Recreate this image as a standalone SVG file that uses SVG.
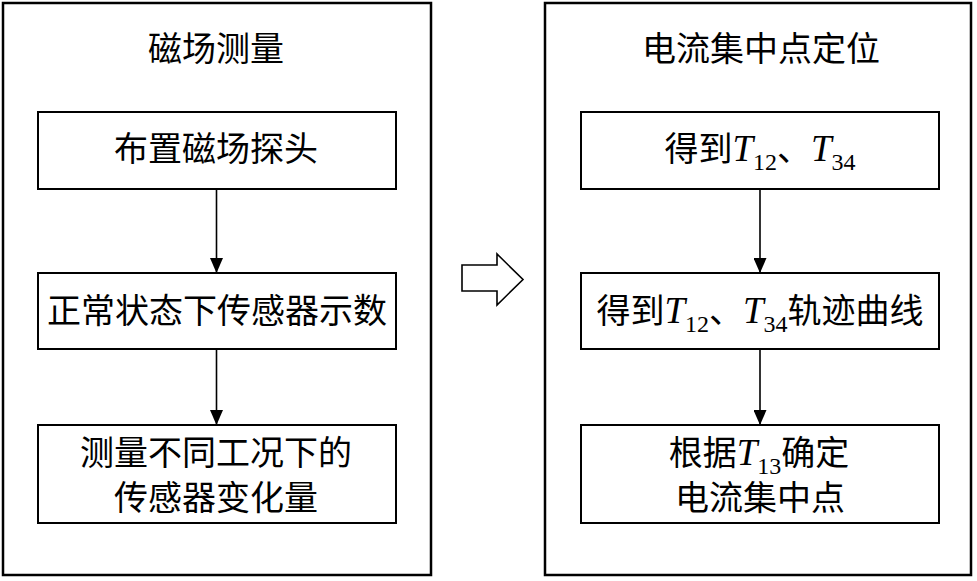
<svg xmlns="http://www.w3.org/2000/svg" width="977" height="581" viewBox="0 0 977 581">
<style>
.frame{fill:#fff;stroke:#000;stroke-width:2.5}
.box{fill:#fff;stroke:#000;stroke-width:2}
.t{font-family:"Liberation Serif","Noto Sans CJK SC",serif;font-size:34px;fill:#000;text-anchor:middle}
.it{font-style:italic;font-size:37px}
.sub{font-size:24px}
.conn{stroke:#000;stroke-width:1.6;fill:none}
</style>
<defs>
<marker id="a" viewBox="0 0 15 13" refX="15" refY="6.5" markerWidth="15" markerHeight="13" markerUnits="userSpaceOnUse" orient="auto">
<path d="M0,0 L15,6.5 L0,13 z" fill="#000"/>
</marker>
</defs>
<rect width="977" height="581" fill="#fff"/>
<g id="panel-left">
<rect class="frame" x="3" y="3" width="428" height="572"/>
<text class="t" x="216" y="61">磁场测量</text>
</g>
<g id="panel-right">
<rect class="frame" x="545" y="3" width="426" height="572"/>
<text class="t" x="761" y="61">电流集中点定位</text>
</g>
<g id="n1">
<rect class="box" x="38" y="112" width="358" height="77"/>
<text class="t" x="216" y="161">布置磁场探头</text>
</g>
<g id="n2">
<rect class="box" x="38" y="273" width="358" height="76"/>
<text class="t" x="217" y="323">正常状态下传感器示数</text>
</g>
<g id="n3">
<rect class="box" x="38" y="425" width="358" height="98"/>
<text class="t" x="216" y="465">测量不同工况下的</text>
<text class="t" x="216" y="510">传感器变化量</text>
</g>
<g id="m1">
<rect class="box" x="581" y="112" width="358" height="77"/>
<text class="t" x="760" y="161">得到<tspan class="it">T</tspan><tspan class="sub" dy="9">12</tspan><tspan dy="-9">、</tspan><tspan class="it">T</tspan><tspan class="sub" dy="9">34</tspan></text>
</g>
<g id="m2">
<rect class="box" x="581" y="273" width="358" height="76"/>
<text class="t" x="760" y="323">得到<tspan class="it">T</tspan><tspan class="sub" dy="9">12</tspan><tspan dy="-9">、</tspan><tspan class="it">T</tspan><tspan class="sub" dy="9">34</tspan><tspan dy="-9">轨迹曲线</tspan></text>
</g>
<g id="m3">
<rect class="box" x="581" y="425" width="358" height="98"/>
<text class="t" x="759" y="465">根据<tspan class="it">T</tspan><tspan class="sub" dy="9">13</tspan><tspan dy="-9">确定</tspan></text>
<text class="t" x="760" y="510">电流集中点</text>
</g>
<g id="transfer">
<path d="M462,265 L497,265 L497,254 L523,279.5 L497,305 L497,291 L462,291 Z" fill="#fff" stroke="#000" stroke-width="1.6"/>
</g>
<g id="connectors">
<line class="conn" x1="216.5" y1="189" x2="216.5" y2="273" marker-end="url(#a)"/>
<line class="conn" x1="216.5" y1="349" x2="216.5" y2="425" marker-end="url(#a)"/>
<line class="conn" x1="760" y1="189" x2="760" y2="273" marker-end="url(#a)"/>
<line class="conn" x1="760" y1="349" x2="760" y2="425" marker-end="url(#a)"/>
</g>
</svg>
